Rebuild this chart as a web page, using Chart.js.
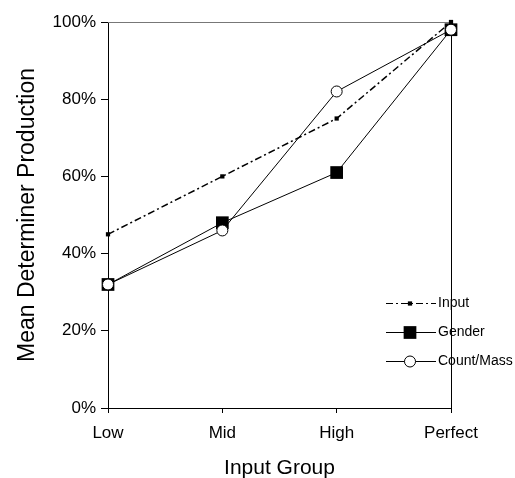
<!DOCTYPE html>
<html>
<head>
<meta charset="utf-8">
<script src="https://cdn.jsdelivr.net/npm/chart.js@4"></script>
<style>
  html, body { margin: 0; padding: 0; background: #fff; }
  #wrap { width: 515px; height: 478px; }
</style>
</head>
<body>
<div id="wrap"><canvas id="c"></canvas></div>
<script>
const groups = ['Low', 'Mid', 'High', 'Perfect'];
const inputVals = [45, 60, 75, 100];
const genderVals = [32, 48, 61, 98];
const countMassVals = [32, 46, 82, 98];
const yTicks = [0, 20, 40, 60, 80, 100];

const FONT = '"Liberation Sans", Arial, sans-serif';

// Cadre haut (gris) et droit (noir) de la zone de tracé
const frame = { id: 'frame', beforeDatasetsDraw(chart) {
  const { ctx, chartArea: a } = chart;
  ctx.save();
  ctx.lineWidth = 1;
  ctx.strokeStyle = '#777';
  ctx.beginPath(); ctx.moveTo(a.left, a.top + 0.5); ctx.lineTo(a.right, a.top + 0.5); ctx.stroke();
  ctx.strokeStyle = '#000';
  ctx.beginPath(); ctx.moveTo(a.right + 0.5, a.top); ctx.lineTo(a.right + 0.5, a.bottom); ctx.stroke();
  ctx.restore();
}};

// Légende dessinée dans la zone de tracé, en bas à droite
const insideLegend = { id: 'insideLegend', afterDraw(chart) {
  const { ctx } = chart;
  const x0 = 386, x1 = 436, rows = [303, 332, 361];
  ctx.save();
  ctx.font = '14px ' + FONT;
  ctx.textBaseline = 'middle';
  chart.data.datasets.forEach((ds, i) => {
    const y = rows[i] + 0.5;
    ctx.strokeStyle = '#000';
    ctx.lineWidth = 1;
    ctx.setLineDash(ds.borderDash || []);
    ctx.beginPath(); ctx.moveTo(x0, y); ctx.lineTo(x1, y); ctx.stroke();
    ctx.setLineDash([]);
    const mx = 410;
    const r = ds.pointRadius;
    if (ds.pointStyle === 'circle') {
      ctx.fillStyle = '#fff';
      ctx.beginPath(); ctx.arc(mx, y, r, 0, Math.PI * 2); ctx.fill(); ctx.stroke();
    } else {
      const h = r * Math.SQRT1_2;
      ctx.fillStyle = '#000';
      ctx.fillRect(mx - h, y - h, h * 2, h * 2);
    }
    ctx.fillStyle = '#000';
    ctx.fillText(ds.label, x1 + 2, rows[i]);
  });
  ctx.restore();
}};

new Chart(document.getElementById('c').getContext('2d'), {
  type: 'line',
  data: {
    labels: groups,
    datasets: [
      { label: 'Input', data: inputVals, order: 2, borderColor: '#000', borderWidth: 1.5,
        borderDash: [7, 3, 2, 3], pointStyle: 'rect', pointRadius: 3,
        pointBackgroundColor: '#000', pointBorderColor: '#000', pointBorderWidth: 0 },
      { label: 'Gender', data: genderVals, order: 1, borderColor: '#000', borderWidth: 1,
        pointStyle: 'rect', pointRadius: 9,
        pointBackgroundColor: '#000', pointBorderColor: '#000', pointBorderWidth: 0 },
      { label: 'Count/Mass', data: countMassVals, order: 0, borderColor: '#000', borderWidth: 1,
        pointStyle: 'circle', pointRadius: 5.5,
        pointBackgroundColor: '#fff', pointBorderColor: '#000', pointBorderWidth: 1 }
    ]
  },
  options: {
    responsive: true,
    maintainAspectRatio: false,
    animation: false,
    clip: false,
    layout: { padding: { top: 22, right: 64, left: 10, bottom: 0 } },
    plugins: { legend: { display: false }, tooltip: { enabled: false } },
    scales: {
      x: {
        offset: false,
        grid: { drawOnChartArea: false, drawTicks: true, tickLength: 5, color: '#000' },
        border: { color: '#000', width: 1 },
        ticks: { color: '#000', font: { family: FONT, size: 17 }, padding: 10, maxRotation: 0 },
        title: { display: true, text: 'Input Group', color: '#000', font: { family: FONT, size: 21 }, padding: { top: 12, bottom: -3 } },
        afterFit: s => { s.height = 70; }
      },
      y: {
        min: 0, max: 100,
        grid: { drawOnChartArea: false, drawTicks: true, tickLength: 7, color: '#000' },
        border: { color: '#000', width: 1 },
        afterBuildTicks: s => { s.ticks = yTicks.map(v => ({ value: v })); },
        ticks: { color: '#000', font: { family: FONT, size: 17 }, padding: 5, callback: v => v + '%' },
        title: { display: true, text: 'Mean Determiner Production', color: '#000', font: { family: FONT, size: 23 }, padding: { bottom: 6 } },
        afterFit: s => { s.width = 98; }
      }
    }
  },
  plugins: [frame, insideLegend]
});
</script>
</body>
</html>
